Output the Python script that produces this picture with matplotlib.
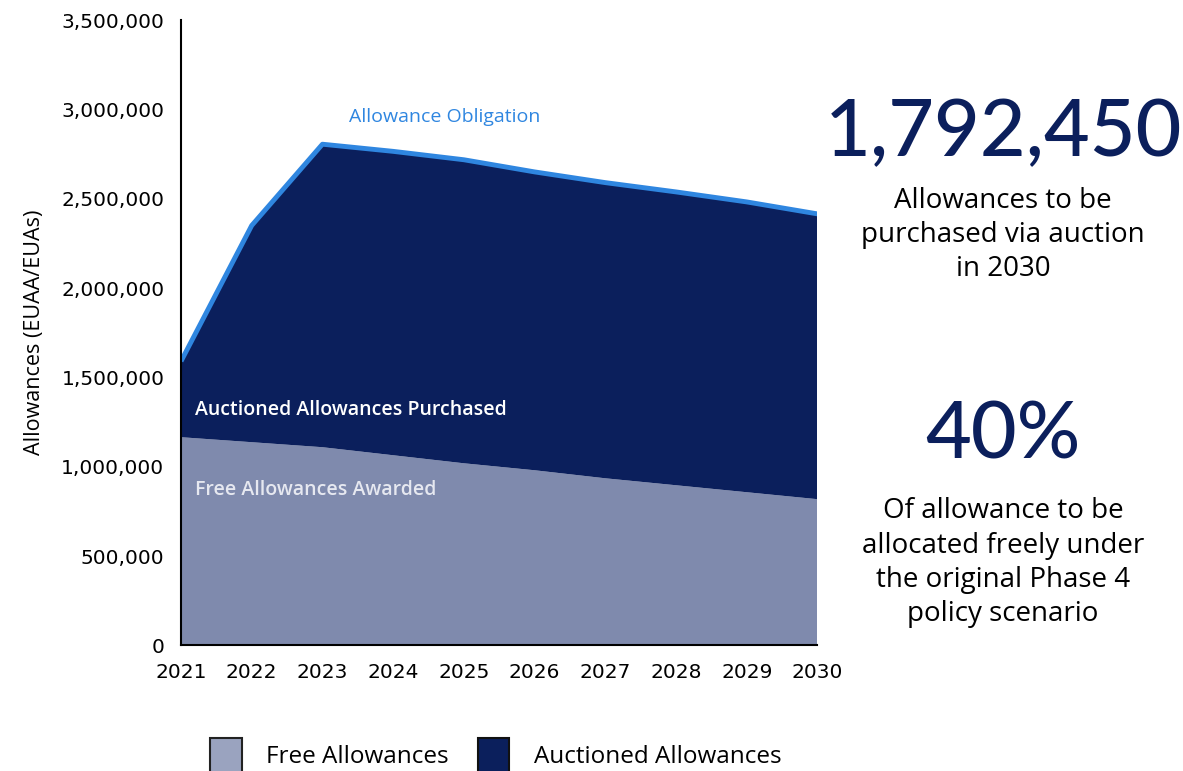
import matplotlib.pyplot as plt
from matplotlib.patches import Patch
from matplotlib.ticker import FuncFormatter

# values
years = [2021, 2022, 2023, 2024, 2025, 2026, 2027, 2028, 2029, 2030]
free_allowances = [1165000, 1137000, 1109000, 1064000, 1019000, 980000, 935000, 896000, 857000, 818000]
obligation = [1590000, 2350000, 2805000, 2765000, 2718000, 2650000, 2590000, 2538000, 2482000, 2415000]
auctioned = [o - f for o, f in zip(obligation, free_allowances)]

free_col = '#7f8aad'
auction_col = '#0b1f5c'
line_col = '#2f86e0'

plt.rcParams['font.family'] = ['Open Sans', 'DejaVu Sans']

fig = plt.figure(figsize=(11.83, 7.71), dpi=100)
ax = fig.add_axes([0.153, 0.163, 0.538, 0.811])

ax.stackplot(years, free_allowances, auctioned, colors=[free_col, auction_col], linewidth=0)
ax.plot(years, obligation, color=line_col, lw=3.5, solid_capstyle='butt')

ax.set_xlim(years[0], years[-1])
ax.set_ylim(0, 3500000)
ax.set_xticks(years)
ax.set_yticks(range(0, 3500001, 500000))
ax.yaxis.set_major_formatter(FuncFormatter(lambda v, p: f'{int(v):,}'))
ax.tick_params(length=0, pad=12)
ax.tick_params(axis='x', pad=13)
for lab in ax.get_xticklabels() + ax.get_yticklabels():
    lab.set_family(['DejaVu Sans'])
    lab.set_fontsize(14.5)
for s in ['top', 'right']:
    ax.spines[s].set_visible(False)
ax.spines['left'].set_linewidth(1.5)
ax.spines['bottom'].set_linewidth(1.5)
ax.set_ylabel('Allowances (EUAA/EUAs)', fontsize=15.5, labelpad=12)

# labels inside the areas
ax.text(2023.38, 2930000, 'Allowance Obligation', color=line_col, fontsize=14)
ax.text(2021.2, 1290000, 'Auctioned Allowances Purchased', color='white', fontsize=14, weight='semibold')
ax.text(2021.2, 840000, 'Free Allowances Awarded', color='#e6e8f0', fontsize=14, weight='semibold')

# call-out text on the right
fig.text(0.848, 0.826, '1,792,450', family=['Lato'], color=auction_col, fontsize=57,
         ha='center', va='center', weight='medium')
fig.text(0.848, 0.695, 'Allowances to be\npurchased via auction\nin 2030', color='black',
         fontsize=20, ha='center', va='center', linespacing=1.3, weight='medium')
fig.text(0.848, 0.434, '40%', family=['Lato'], color=auction_col, fontsize=57,
         ha='center', va='center', weight='medium')
fig.text(0.848, 0.27, 'Of allowance to be\nallocated freely under\nthe original Phase 4\npolicy scenario',
         color='black', fontsize=20, ha='center', va='center', linespacing=1.3, weight='medium')

handles = [Patch(facecolor='#9aa3bf', edgecolor='#222222', lw=1.5, label='Free Allowances'),
           Patch(facecolor=auction_col, edgecolor='#111111', lw=1.5, label='Auctioned Allowances')]
fig.legend(handles=handles, loc='center', bbox_to_anchor=(0.419, 0.02), ncol=2, frameon=False,
           fontsize=17.5, handlelength=1.3, handleheight=1.9, handletextpad=1.0, columnspacing=1.2)

fig.savefig('out.png', dpi=100)
